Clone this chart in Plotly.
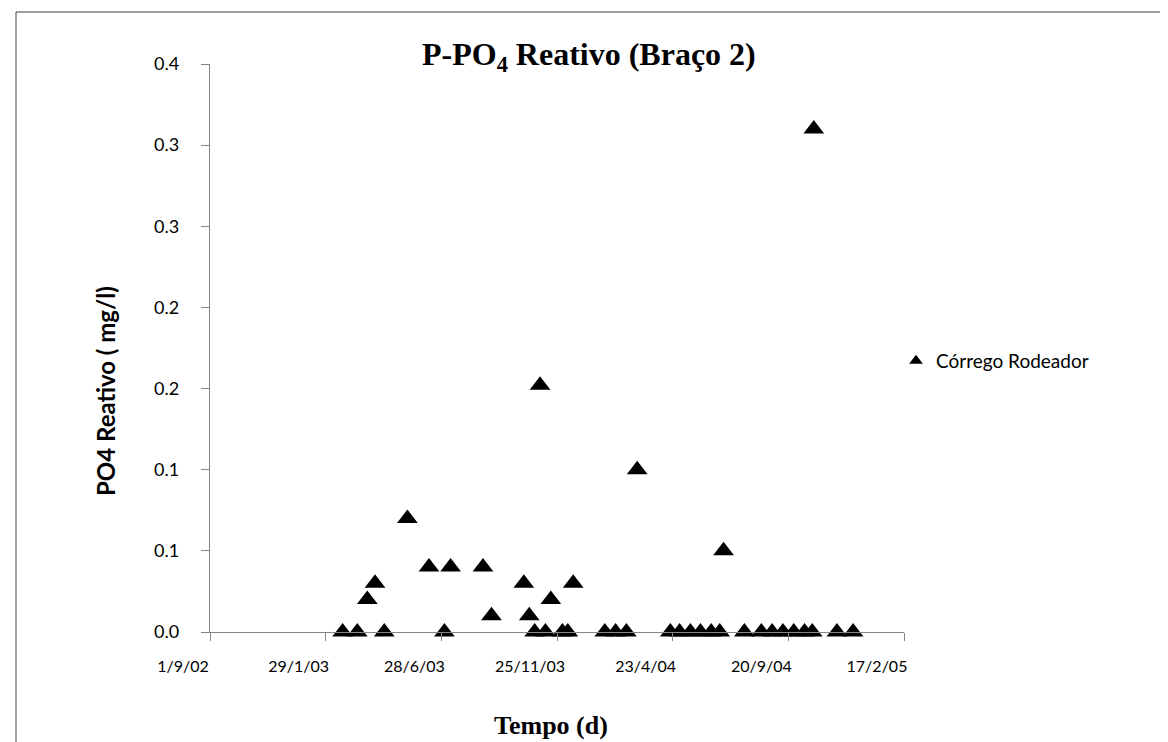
import plotly.graph_objects as go

# ---- data ----
dates = [
    "2003-02-20", "2003-03-11", "2003-03-24", "2003-04-03", "2003-04-15",
    "2003-05-15", "2003-06-12", "2003-07-02", "2003-07-10", "2003-08-21",
    "2003-09-01", "2003-10-13", "2003-10-20", "2003-10-27", "2003-11-03",
    "2003-11-10", "2003-11-17", "2003-12-02", "2003-12-09", "2003-12-16",
    "2004-01-26", "2004-02-09", "2004-02-23", "2004-03-08", "2004-04-20",
    "2004-05-02", "2004-05-16", "2004-05-29", "2004-06-12", "2004-06-23",
    "2004-06-28", "2004-07-25", "2004-08-16", "2004-08-30", "2004-09-13",
    "2004-09-27", "2004-10-11", "2004-10-21", "2004-10-23", "2004-11-22",
    "2004-12-13",
]
po4 = [
    0.0, 0.0, 0.02, 0.03, 0.0,
    0.07, 0.04, 0.0, 0.04, 0.04,
    0.01, 0.03, 0.01, 0.0, 0.152,
    0.0, 0.02, 0.0, 0.0, 0.03,
    0.0, 0.0, 0.0, 0.10, 0.0,
    0.0, 0.0, 0.0, 0.0, 0.0,
    0.05, 0.0, 0.0, 0.0, 0.0,
    0.0, 0.0, 0.0, 0.31, 0.0,
    0.0,
]
series_name = "Córrego Rodeador"

x_tick_dates = ["2002-09-01", "2003-01-29", "2003-06-28", "2003-11-25",
                "2004-04-23", "2004-09-20", "2005-02-17"]
x_tick_labels = ["1/9/02", "29/1/03", "28/6/03", "25/11/03",
                 "23/4/04", "20/9/04", "17/2/05"]
y_tick_vals = [0.0, 0.05, 0.10, 0.15, 0.20, 0.25, 0.30, 0.35]
y_tick_labels = ["0.0", "0.1", "0.1", "0.2", "0.2", "0.3", "0.3", "0.4"]

title_text = "P-PO<sub>4</sub> Reativo (Braço 2)"
x_title = "Tempo (d)"
y_title = "PO4 Reativo ( mg/l)"

# ---- figure ----
W, H = 1168, 742
L, R, T, B = 202, 272, 56, 118
pw, ph = W - L - R, H - T - B

def px_x(p):
    return (p - L) / pw

def px_y(p):
    return (H - B - p) / ph

fig = go.Figure()
fig.add_trace(go.Scatter(
    x=dates, y=po4, mode="markers", name=series_name,
    marker=dict(symbol="triangle-up", size=18, color="black"),
    cliponaxis=False,
))

axis_gray = "#868686"
sans = "Lato, Carlito, Calibri, sans-serif"
serif = "Liberation Serif, Times New Roman, serif"

fig.update_layout(
    width=W, height=H,
    margin=dict(l=L, r=R, t=T, b=B, autoexpand=False),
    paper_bgcolor="white", plot_bgcolor="white",
    font=dict(family=sans, size=17, color="black"),
    showlegend=True,
    legend=dict(x=px_x(888), y=px_y(353), xanchor="left", yanchor="middle",
                font=dict(family=sans, size=19, color="black"),
                bgcolor="rgba(0,0,0,0)", borderwidth=0,
                itemsizing="constant", itemwidth=30),
    xaxis=dict(
        type="date", range=["2002-09-01", "2005-02-17"],
        tickmode="array", tickvals=x_tick_dates, ticktext=x_tick_labels,
        showgrid=False, zeroline=False,
        showline=True, linecolor=axis_gray, linewidth=1.3,
        ticks="outside", ticklen=8, tickcolor=axis_gray, tickwidth=1.3,
        ticklabelstandoff=12, ticklabelshift=-27,
        tickfont=dict(family=sans, size=16, color="black"),
    ),
    yaxis=dict(
        range=[0, 0.35],
        tickmode="array", tickvals=y_tick_vals, ticktext=y_tick_labels,
        showgrid=False, zeroline=False,
        showline=True, linecolor=axis_gray, linewidth=1.3,
        ticks="outside", ticklen=8, tickcolor=axis_gray, tickwidth=1.3,
        ticklabelstandoff=18,
        tickfont=dict(family=sans, size=18, color="black"),
    ),
    annotations=[
        dict(text="<b>" + title_text + "</b>", xref="paper", yref="paper",
             x=px_x(581), y=px_y(48), xanchor="center", yanchor="middle",
             showarrow=False, font=dict(family=serif, size=32, color="black")),
        dict(text="<b>" + x_title + "</b>", xref="paper", yref="paper",
             x=px_x(543), y=px_y(717), xanchor="center", yanchor="middle",
             showarrow=False, font=dict(family=serif, size=26, color="black")),
        dict(text="<b>" + y_title + "</b>", xref="paper", yref="paper",
             x=px_x(97), y=px_y(383), xanchor="center", yanchor="middle",
             textangle=-90, showarrow=False,
             font=dict(family=sans, size=24, color="black")),
    ],
    shapes=[
        dict(type="rect", xref="paper", yref="paper",
             x0=px_x(8), x1=px_x(1160), y0=px_y(760), y1=px_y(4),
             line=dict(color="#404040", width=1), fillcolor="rgba(0,0,0,0)",
             layer="below"),
    ],
)

fig.write_html("out.html")
